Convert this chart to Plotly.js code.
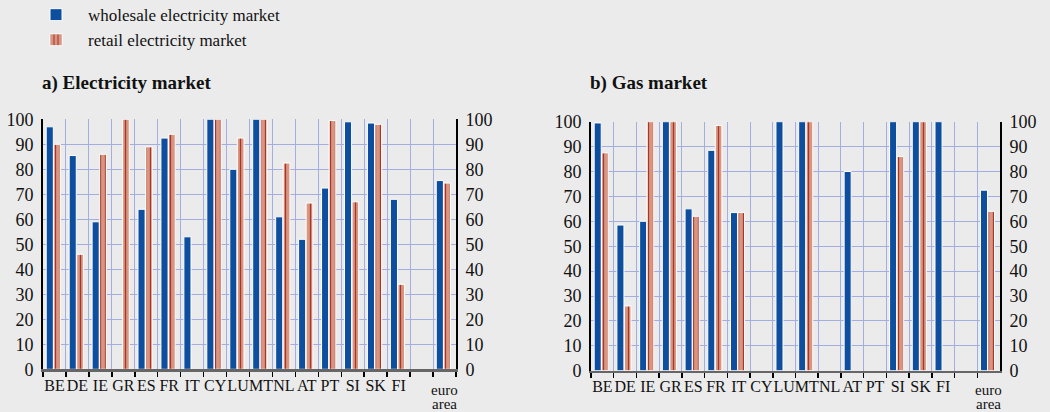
<!DOCTYPE html>
<html>
<head>
<meta charset="utf-8">
<script src="https://cdn.plot.ly/plotly-3.0.1.min.js"></script>
<style>html,body{margin:0;padding:0;background:#ebebeb;}#chart{width:1050px;height:412px;}</style>
</head>
<body>
<div id="chart"></div>
<script>
const categories = ['BE','DE','IE','GR','ES','FR','IT','CY','LU','MT','NL','AT','PT','SI','SK','FI','\u00a0','euro area'];
const tickLabels = ['BE','DE','IE','GR','ES','FR','IT','CY','LU','MT','NL','AT','PT','SI','SK','FI','',''];
const euroLabelLines = ['euro', 'area'];
const elecWholesale = [97, 85.5, 59, null, 64, 92.5, 53, 100, 80, 100, 61, 52, 72.5, 99, 98.5, 68, null, 75.5];
const elecRetail    = [90, 46, 86, 100, 89, 94, null, 100, 92.5, 100, 82.5, 66.5, 99.5, 67, 98, 34, null, 74.5];
const gasWholesale  = [99.5, 58.5, 60, 100, 65, 88.5, 63.5, null, 100, 100, null, 80, null, 100, 100, 100, null, 72.5];
const gasRetail     = [87.5, 26, 100, 100, 62, 98.5, 63.5, null, null, 100, null, null, null, 86, 100, null, null, 64];
const yTicks = [0,10,20,30,40,50,60,70,80,90,100];

const BLUE = '#0e4e9f';
const SALMON = '#d8957f';
const DARKRED = '#a8342a';
const GRID = '#a4addf';
const BG = '#ebebeb';
const FONT = '"Liberation Serif", "DejaVu Serif", serif';

function wholesale(y, xa, ya, show) {
  return {type:'bar', x:categories, y:y, xaxis:xa, yaxis:ya, name:'wholesale electricity market',
    showlegend:show, width:0.31, offset:-0.36,
    marker:{color:BLUE, line:{color:'#ffffff', width:1}}, hoverinfo:'x+y'};
}
function retail(y, xa, ya, show) {
  return {type:'bar', x:categories, y:y, xaxis:xa, yaxis:ya, name:'retail electricity market',
    showlegend:show, width:0.29, offset:-0.03,
    marker:{color:SALMON, line:{color:'#ffffff', width:1},
      pattern:{shape:'|', fgcolor:DARKRED, bgcolor:SALMON, size:5, solidity:0.25}}, hoverinfo:'x+y'};
}
function axisHolder(xa, ya) {
  return {type:'scatter', mode:'markers', x:[categories[0]], y:[null], xaxis:xa, yaxis:ya,
    showlegend:false, hoverinfo:'skip'};
}

const data = [
  wholesale(elecWholesale, 'x', 'y', true),
  retail(elecRetail, 'x', 'y', true),
  wholesale(gasWholesale, 'x2', 'y2', false),
  retail(gasRetail, 'x2', 'y2', false),
  axisHolder('x', 'y3'),
  axisHolder('x2', 'y4')
];

function xAxis(domain, anchor) {
  return {domain:domain, anchor:anchor, type:'category', categoryorder:'array', categoryarray:categories,
    tickmode:'array', tickvals:categories, ticktext:tickLabels, tickson:'boundaries', tickangle:0,
    ticks:'outside', ticklen:5, tickwidth:1.5, tickcolor:'#000',
    showgrid:true, gridcolor:GRID, gridwidth:1,
    showline:true, linecolor:'#666', linewidth:2.5,
    tickfont:{family:FONT, size:16, color:'#111'}, fixedrange:true, range:[-0.5,17.5]};
}
function yAxis(domain, anchor, side, overlay) {
  const a = {domain:domain, anchor:anchor, side:side, range:[0,100], tickmode:'array', tickvals:yTicks,
    showgrid:!overlay, gridcolor:GRID, gridwidth:1, zeroline:false,
    showline:true, linecolor:'#000', linewidth:2, ticks:'', ticklabelstandoff:4,
    tickfont:{family:FONT, size:18, color:'#111'}, fixedrange:true};
  if (overlay) a.overlaying = overlay;
  return a;
}

function euroNotes(xref) {
  return euroLabelLines.map((t, i) => ({text:t, xref:xref, yref:'paper', x:categories[17], y:(412 - (390 + 14*i))/412,
    xanchor:'center', yanchor:'middle', showarrow:false, font:{family:FONT, size:15, color:'#111'}}));
}

const layout = {
  width:1050, height:412,
  paper_bgcolor:BG, plot_bgcolor:BG,
  margin:{l:0, r:0, t:0, b:0, autoexpand:false},
  barmode:'overlay',
  font:{family:FONT, color:'#111'},
  xaxis: xAxis([43/1050, 456/1050], 'y'),
  xaxis2: xAxis([591/1050, 1000/1050], 'y2'),
  yaxis: yAxis([42.7/412, 292.7/412], 'x', 'left', null),
  yaxis3: yAxis([42.7/412, 292.7/412], 'x', 'right', 'y'),
  yaxis2: yAxis([41.3/412, 290.3/412], 'x2', 'left', null),
  yaxis4: yAxis([41.3/412, 290.3/412], 'x2', 'right', 'y2'),
  legend:{x:24/1050, y:1.007, xanchor:'left', yanchor:'top', bgcolor:'rgba(0,0,0,0)',
    font:{family:FONT, size:17, color:'#111'}, tracegroupgap:0, itemwidth:54},
  annotations:[
    {text:'<b>a) Electricity market</b>', xref:'paper', yref:'paper', x:40/1050, y:(412-83)/412,
     xanchor:'left', yanchor:'middle', showarrow:false, font:{family:FONT, size:19, color:'#111'}},
    {text:'<b>b) Gas market</b>', xref:'paper', yref:'paper', x:588/1050, y:(412-83)/412,
     xanchor:'left', yanchor:'middle', showarrow:false, font:{family:FONT, size:19, color:'#111'}}
  ].concat(euroNotes('x'), euroNotes('x2'))
};

Plotly.newPlot('chart', data, layout, {displayModeBar:false, staticPlot:true});
</script>
</body>
</html>
